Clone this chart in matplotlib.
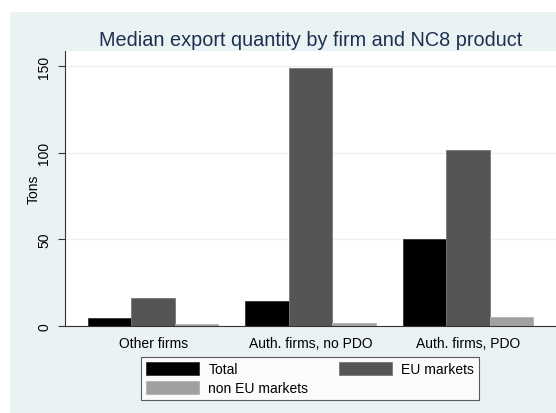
import numpy as np
import matplotlib.pyplot as plt
from matplotlib.patches import Rectangle

# values (tons)
groups = ["Other firms", "Auth. firms, no PDO", "Auth. firms, PDO"]
total = [4.6, 14.4, 50.0]
eu_markets = [16.2, 149.0, 101.7]
non_eu_markets = [1.0, 1.5, 5.3]

plt.rcParams['font.family'] = ['Liberation Sans', 'DejaVu Sans']

fig = plt.figure(figsize=(5.56, 4.14), dpi=100)
fig.patch.set_facecolor('white')
# Stata-like light blue graph region
fig.patches.append(Rectangle((10/556, 0), 546/556, 401/414,
                             transform=fig.transFigure, facecolor='#EAF2F3',
                             edgecolor='none', zorder=-10))

ax = fig.add_axes([65/556, 87/414, 491/556, 275/414])
ax.set_facecolor('white')

x = np.arange(len(groups))
w = 0.276
b1 = ax.bar(x - w, total, w, color='black', edgecolor='#333333', linewidth=0.6, zorder=3)
b2 = ax.bar(x, eu_markets, w, color='#555555', edgecolor='#777777', linewidth=0.6, zorder=3)
b3 = ax.bar(x + w, non_eu_markets, w, color='#A0A0A0', edgecolor='#B0B0B0', linewidth=0.6, zorder=3)

ax.set_xlim(-0.56, 2.56)
ax.set_ylim(0, 158.7)
ax.set_yticks([0, 50, 100, 150])
ax.set_yticklabels(["0", "50", "100", "150"], rotation=90, va='center', fontsize=10)
ax.yaxis.grid(True, color='#EAF2F3', linewidth=1.0, zorder=0)
ax.set_xticks(x)
ax.set_xticklabels(groups, fontsize=10)
ax.tick_params(axis='x', length=0, pad=7)
ax.tick_params(axis='y', length=5, width=0.8, color='#333333', pad=5)

for s in ['top', 'right']:
    ax.spines[s].set_visible(False)
for s in ['left', 'bottom']:
    ax.spines[s].set_color('#333333')
    ax.spines[s].set_linewidth(0.8)

ax.set_ylabel("Tons", fontsize=10)
ax.yaxis.set_label_coords(-0.05, 0.5)
fig.text(311/556, 1 - 40/414, "Median export quantity by firm and NC8 product",
         ha='center', va='center', fontsize=14.3, color='#1C3050')

leg = fig.legend([b1, b3, b2], ["Total", "non EU markets", "EU markets"],
                 ncol=2, loc='lower left',
                 bbox_to_anchor=(141/556, 13/414, 338/556, 45/414),
                 mode='expand', fontsize=10, frameon=True, fancybox=False,
                 edgecolor='#333333', handlelength=3.8, handleheight=1.0,
                 borderpad=0.35, labelspacing=0.35, handletextpad=0.7,
                 borderaxespad=0)
leg.get_frame().set_linewidth(0.8)

fig.savefig("out.png", dpi=100)
